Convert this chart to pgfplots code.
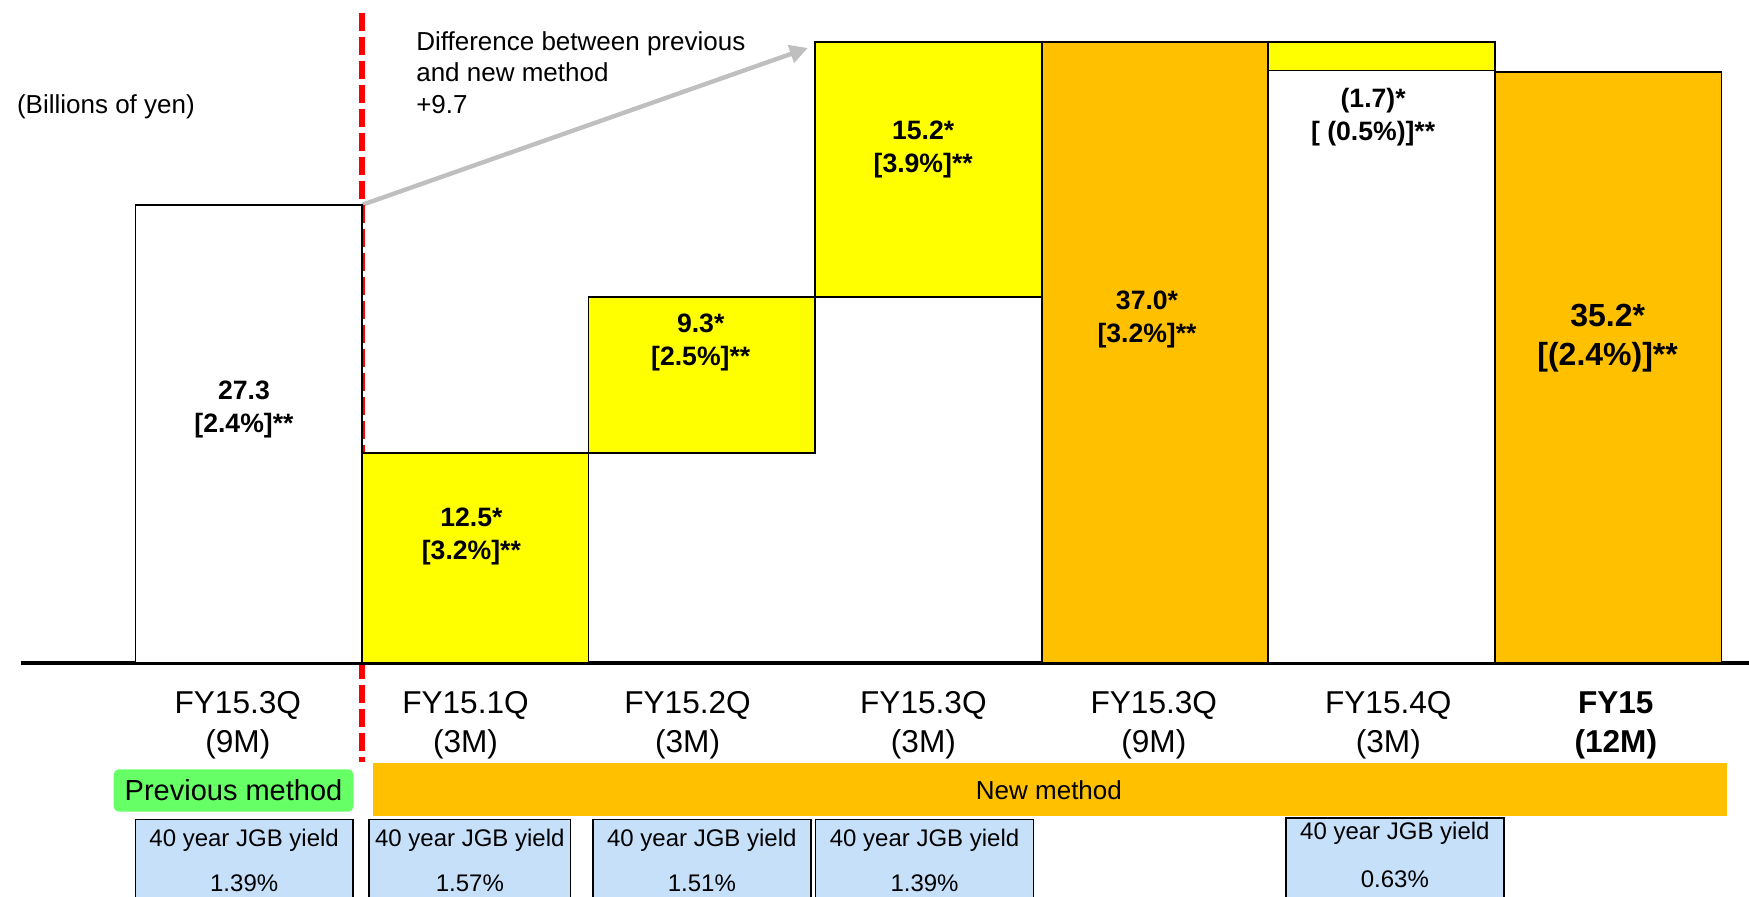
\documentclass[border=0pt]{standalone}
\usepackage{pgfplots}
\pgfplotsset{compat=1.18}
\usepackage{fontspec}
\setmainfont{Liberation Sans}
\usetikzlibrary{arrows.meta}

\definecolor{barYellow}{HTML}{FFFF00}
\definecolor{barOrange}{HTML}{FFC000}
\definecolor{prevGreen}{HTML}{66FF66}
\definecolor{jgbBlue}{HTML}{C6E0FA}
\definecolor{arrowGray}{HTML}{BFBFBF}
\newcommand{\fs}[2]{\fontsize{#1}{#2}\selectfont}

\begin{document}
\begin{tikzpicture}
\begin{axis}[
  scale only axis, width=874.5pt, height=448pt,
  xmin=-1.0977, xmax=6.622, ymin=-13.885, ymax=39.51,
  axis x line=middle, axis y line=none,
  x axis line style={draw=none},
  hide obscured x ticks=false,
  xtick={-0.048,0.957,1.937,2.978,3.995,5.030,6.034},
  xticklabels={{FY15.3Q\\(9M)},{FY15.1Q\\(3M)},{FY15.2Q\\(3M)},{FY15.3Q\\(3M)},{FY15.3Q\\(9M)},{FY15.4Q\\(3M)},{\textbf{FY15}\\\textbf{(12M)}}},
  major tick length=0pt,
  tick style={draw=none},
  xticklabel style={anchor=north, inner sep=0pt, yshift=-14.2pt, align=center, font=\fs{15.8pt}{19.5pt}},
  ytick=\empty,
  ybar stacked, bar width=1,
  clip=false,
]
% invisible base of the floating bars
\addplot[draw=none, fill=none] coordinates {(0,0) (1,0) (2,12.5) (3,21.8) (4,0) (5,0) (6,0)};
% previous method / remaining white part
\addplot[fill=white, draw=black, line width=0.85pt] coordinates {(0,27.3) (1,0) (2,0) (3,0) (4,0) (5,35.3) (6,0)};
% quarterly changes
\addplot[fill=barYellow, draw=black, line width=0.85pt] coordinates {(0,0) (1,12.5) (2,9.3) (3,15.2) (4,0) (5,1.7) (6,0)};
% cumulative totals
\addplot[fill=barOrange, draw=black, line width=0.85pt] coordinates {(0,0) (1,0) (2,0) (3,0) (4,37.0) (5,0) (6,35.2)};

% baseline
\draw[line width=1.65pt] (axis cs:-1.0055,0) -- (axis cs:6.622,0);

% red dashed separator
\draw[red, line width=2.8pt, dash pattern=on 9pt off 3pt] (axis cs:0.5,38.75) -- (axis cs:0.5,-5.88);

% arrow
\draw[arrowGray, line width=2.2pt, -{Triangle[length=9pt,width=9pt]}] (axis cs:0.5,27.3) -- (axis cs:2.468,36.65);

% method bands
\fill[prevGreen, rounded corners=3pt] (axis cs:-0.5963,-6.335) rectangle (axis cs:0.4626,-8.862);
\fill[barOrange] (axis cs:0.5482,-5.942) rectangle (axis cs:6.5247,-9.100);

% JGB yield boxes
\draw[fill=jgbBlue, line width=0.8pt] (axis cs:-0.500,-9.315) rectangle (axis cs:0.460,-15);
\draw[fill=jgbBlue, line width=0.8pt] (axis cs:0.5306,-9.315) rectangle (axis cs:1.4211,-15);
\draw[fill=jgbBlue, line width=0.8pt] (axis cs:1.5193,-9.315) rectangle (axis cs:2.4815,-15);
\draw[fill=jgbBlue, line width=0.8pt] (axis cs:2.5022,-9.315) rectangle (axis cs:3.4644,-15);
\draw[fill=jgbBlue, line width=0.8pt] (axis cs:4.5794,-9.219) rectangle (axis cs:5.5394,-15);

% anchor points for text
\coordinate (L0) at (axis cs:-0.021,15.12);
\coordinate (L1) at (axis cs:0.983,7.54);
\coordinate (L2) at (axis cs:1.995,19.13);
\coordinate (L3) at (axis cs:2.977,30.60);
\coordinate (L4) at (axis cs:3.965,20.45);
\coordinate (L5) at (axis cs:4.963,32.54);
\coordinate (L6) at (axis cs:5.998,19.34);
\coordinate (Tdiff) at (axis cs:0.738,35.19);
\coordinate (Tbill) at (axis cs:-0.6302,33.14);
\coordinate (Tprev) at (axis cs:-0.0669,-7.598);
\coordinate (Tnew) at (axis cs:3.532,-7.569);
\coordinate (J1a) at (axis cs:-0.020,-10.55);
\coordinate (J1b) at (axis cs:-0.020,-13.11);
\coordinate (J2a) at (axis cs:0.976,-10.55);
\coordinate (J2b) at (axis cs:0.976,-13.11);
\coordinate (J3a) at (axis cs:2.000,-10.55);
\coordinate (J3b) at (axis cs:2.000,-13.11);
\coordinate (J4a) at (axis cs:2.983,-10.55);
\coordinate (J4b) at (axis cs:2.983,-13.11);
\coordinate (J5a) at (axis cs:5.059,-10.13);
\coordinate (J5b) at (axis cs:5.059,-12.87);

\coordinate (bbsw) at (rel axis cs:0,0);
\coordinate (bbne) at (rel axis cs:1,1);
\end{axis}

% bar labels
\node[font=\bfseries\fs{13.3pt}{16.5pt}, align=center] at (L0) {27.3\\{}[2.4\%]**};
\node[font=\bfseries\fs{13.3pt}{16.5pt}, align=center] at (L1) {12.5*\\{}[3.2\%]**};
\node[font=\bfseries\fs{13.3pt}{16.5pt}, align=center] at (L2) {9.3*\\{}[2.5\%]**};
\node[font=\bfseries\fs{13.3pt}{16.5pt}, align=center] at (L3) {15.2*\\{}[3.9\%]**};
\node[font=\bfseries\fs{13.3pt}{16.5pt}, align=center] at (L4) {37.0*\\{}[3.2\%]**};
\node[font=\bfseries\fs{13.3pt}{16.5pt}, align=center] at (L5) {(1.7)*\\{}[ (0.5\%)]**};
\node[font=\bfseries\fs{16pt}{19.5pt}, align=center] at (L6) {35.2*\\{}[(2.4\%)]**};

% annotations
\node[font=\fs{13pt}{15.75pt}, align=left, anchor=west, inner sep=0pt] at (Tdiff) {Difference between previous\\and new method\\+9.7};
\node[font=\fs{13pt}{15.6pt}] at (Tbill) {(Billions of yen)};
\node[font=\fs{14.5pt}{16pt}] at (Tprev) {Previous method};
\node[font=\fs{13pt}{15.6pt}] at (Tnew) {New method};

% JGB yield texts
\node[font=\fs{12pt}{14pt}] at (J1a) {40 year JGB yield};
\node[font=\fs{12pt}{14pt}] at (J1b) {1.39\%};
\node[font=\fs{12pt}{14pt}] at (J2a) {40 year JGB yield};
\node[font=\fs{12pt}{14pt}] at (J2b) {1.57\%};
\node[font=\fs{12pt}{14pt}] at (J3a) {40 year JGB yield};
\node[font=\fs{12pt}{14pt}] at (J3b) {1.51\%};
\node[font=\fs{12pt}{14pt}] at (J4a) {40 year JGB yield};
\node[font=\fs{12pt}{14pt}] at (J4b) {1.39\%};
\node[font=\fs{12pt}{14pt}] at (J5a) {40 year JGB yield};
\node[font=\fs{12pt}{14pt}] at (J5b) {0.63\%};

\pgfresetboundingbox
\path[use as bounding box] (bbsw) rectangle (bbne);
\end{tikzpicture}
\end{document}
